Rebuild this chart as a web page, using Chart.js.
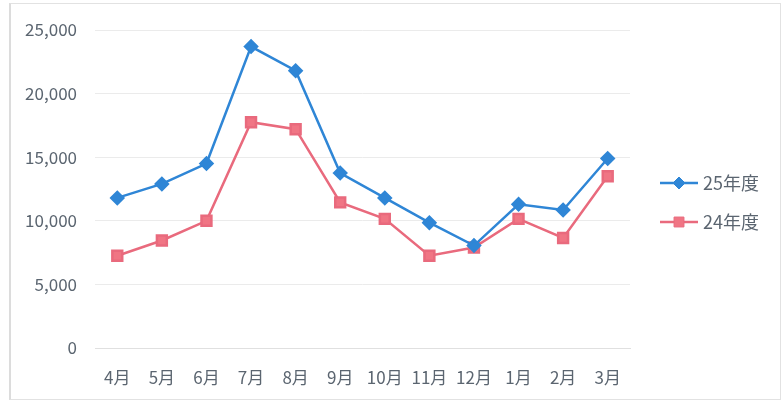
<!DOCTYPE html>
<html>
<head>
<meta charset="utf-8">
<script src="https://cdn.jsdelivr.net/npm/chart.js@4/dist/chart.umd.min.js"></script>
<style>
  body { margin: 0; background: #fff; }
  #wrap { position: relative; width: 781px; height: 401px; }
  #frame { position: absolute; left: 9px; top: 3px; width: 769px; height: 395px; border: 1px solid #e2e2e2; border-left: 2px solid #dcdcdc; }
  canvas { position: absolute; left: 0; top: 0; }
</style>
</head>
<body>
<div id="wrap">
  <div id="frame"></div>
  <canvas id="myChart" width="781" height="401"></canvas>
</div>
<script>
const months = ['4月', '5月', '6月', '7月', '8月', '9月', '10月', '11月', '12月', '1月', '2月', '3月'];
const fy25 = [11800, 12900, 14500, 23700, 21800, 13750, 11800, 9850, 8050, 11300, 10850, 14900];
const fy24 = [7250, 8450, 10000, 17750, 17200, 11450, 10150, 7250, 7900, 10150, 8650, 13500];
const seriesNames = ['25年度', '24年度'];
const yTicks = [0, 5000, 10000, 15000, 20000, 25000];

const textColor = '#5b6570';
const fontFamily = '"Noto Sans CJK JP", "Noto Sans", sans-serif';

// legend: line with marker in the middle, like Excel
const sideLegend = {
  id: 'sideLegend',
  afterDraw(chart) {
    const ctx = chart.ctx;
    const x0 = 660, x1 = 698;
    const rows = [183, 222];
    chart.data.datasets.forEach((ds, i) => {
      const y = rows[i];
      ctx.save();
      ctx.strokeStyle = ds.borderColor;
      ctx.lineWidth = 2.5;
      ctx.beginPath();
      ctx.moveTo(x0, y);
      ctx.lineTo(x1, y);
      ctx.stroke();
      ctx.fillStyle = ds.pointBackgroundColor;
      ctx.strokeStyle = ds.pointBorderColor;
      ctx.lineWidth = 1;
      Chart.helpers.drawPoint(ctx, {
        pointStyle: ds.pointStyle,
        radius: ds.pointRadius,
        borderWidth: 1
      }, (x0 + x1) / 2, y);
      ctx.fillStyle = textColor;
      ctx.font = '18px ' + fontFamily;
      ctx.textBaseline = 'middle';
      ctx.fillText(ds.label, x1 + 5, y);
      ctx.restore();
    });
  }
};

function generateChart(target) {
  const chart = new Chart(target, {
    type: 'line',
    data: {
      labels: months,
      datasets: [
        {
          label: seriesNames[0],
          data: fy25,
          borderColor: '#2f86d6',
          backgroundColor: '#2f86d6',
          pointBackgroundColor: '#2f86d6',
          pointBorderColor: '#2f86d6',
          borderWidth: 2.5,
          pointStyle: 'rectRot',
          pointRadius: 6,
          tension: 0
        },
        {
          label: seriesNames[1],
          data: fy24,
          borderColor: '#e96a7d',
          backgroundColor: '#f07584',
          pointBackgroundColor: '#f07584',
          pointBorderColor: '#e96a7d',
          borderWidth: 2.5,
          pointStyle: 'rect',
          pointRadius: 7,
          tension: 0
        }
      ]
    },
    options: {
      responsive: false,
      animation: false,
      layout: { padding: { top: 30, right: 151, bottom: 10, left: 10 } },
      plugins: {
        legend: { display: false },
        tooltip: { enabled: false }
      },
      scales: {
        x: {
          offset: true,
          grid: { display: false, drawTicks: false },
          border: { color: '#e0e0e0', width: 1 },
          ticks: { color: textColor, font: { size: 17, family: fontFamily }, padding: 19, maxRotation: 0, autoSkip: false },
          afterFit(s) { s.height = 43; }
        },
        y: {
          min: 0,
          max: 25000,
          afterBuildTicks(s) { s.ticks = yTicks.map(v => ({ value: v })); },
          grid: { color: '#ebebeb', drawTicks: false },
          border: { display: false },
          ticks: {
            color: textColor,
            font: { size: 17, family: fontFamily },
            padding: 18,
            callback: v => v.toLocaleString('en-US')
          },
          afterFit(s) { s.width = 85; }
        }
      }
    },
    plugins: [sideLegend]
  });
  return chart;
}

document.addEventListener('DOMContentLoaded', () => {
  generateChart(document.querySelector('#myChart'));
});
</script>
</body>
</html>
